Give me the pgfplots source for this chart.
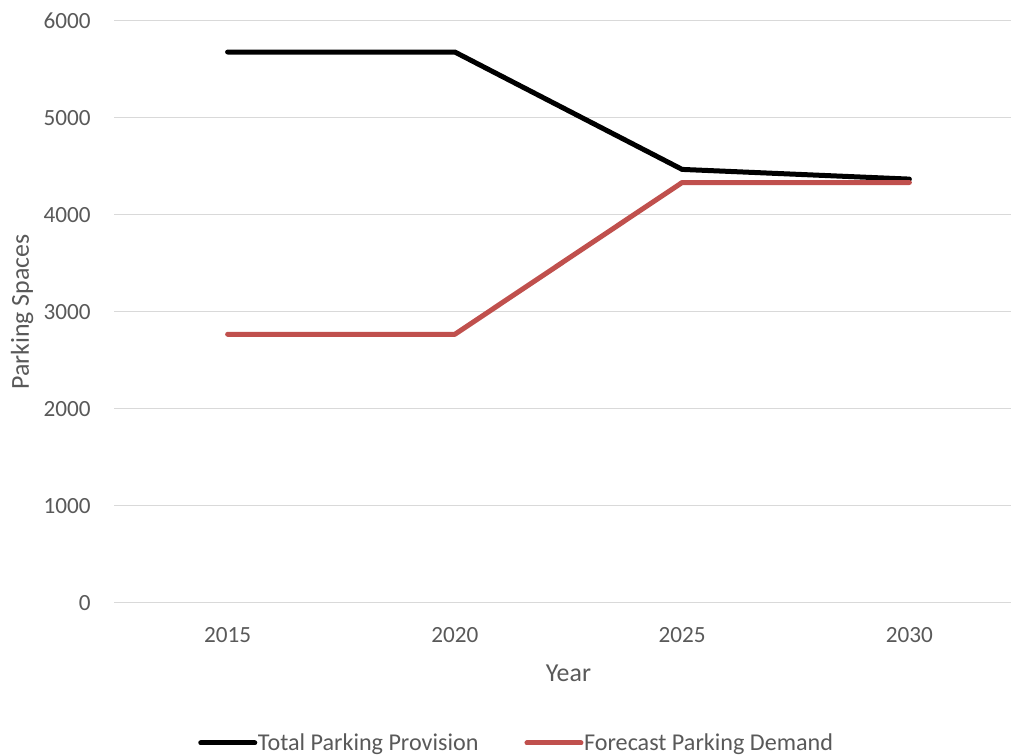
\documentclass[border=0pt]{standalone}
\usepackage{fontspec}
\setmainfont{Carlito}
\usepackage{pgfplots}
\pgfplotsset{compat=1.18}

\definecolor{gridgray}{HTML}{D9D9D9}
\definecolor{labelgray}{HTML}{595959}
\definecolor{demandred}{HTML}{C0504D}

\begin{document}
\begin{tikzpicture}
\useasboundingbox (0pt,0pt) rectangle (758.25pt,567pt);
\begin{axis}[
  scale only axis,
  width=681.75pt, height=436.5pt,
  at={(85.5pt,114.75pt)}, anchor=south west,
  xmin=-0.5, xmax=3.5,
  ymin=0, ymax=6000,
  xtick={0,1,2,3},
  xticklabels={2015,2020,2025,2030},
  ytick={0,1000,2000,3000,4000,5000,6000},
  ymajorgrids,
  grid style={gridgray, line width=0.75pt},
  axis line style={draw=none},
  major tick length=0pt,
  /pgf/number format/assume math mode=true,
  /pgf/number format/1000 sep={},
  tick label style={font=\fontsize{17.4}{20}\selectfont, text=labelgray},
  yticklabel style={inner sep=0pt, anchor=east, xshift=-17.25pt},
  xticklabel style={inner sep=0pt, anchor=north, yshift=-18pt},
  xlabel={Year},
  ylabel={Parking Spaces},
  label style={font=\fontsize{19.4}{22}\selectfont, text=labelgray, inner sep=0pt},
  xlabel style={at={(axis description cs:0.5,0)}, anchor=center, yshift=-52.5pt},
  ylabel style={at={(axis description cs:0,0.5)}, anchor=center, yshift=69pt},
  legend columns=-1,
  legend style={
    at={(axis description cs:0,0)}, anchor=west,
    xshift=63pt, yshift=-105pt,
    draw=none, fill=none, inner sep=0pt,
    font=\fontsize{18.1}{20}\selectfont, text=labelgray,
    nodes={inner sep=0pt},
    /tikz/every odd column/.append style={column sep=0.5pt},
    /tikz/every even column/.append style={column sep=34.5pt},
  },
  legend image code/.code={\draw[#1] (0pt,0pt) -- (40.5pt,0pt);},
  every axis plot/.append style={line width=3.75pt, line cap=round, line join=round},
]
% total parking provision
\addplot[black] coordinates {(0,5680) (1,5680) (2,4470) (3,4370)};
\addlegendentry{Total Parking Provision}
% forecast parking demand
\addplot[demandred] coordinates {(0,2770) (1,2770) (2,4335) (3,4335)};
\addlegendentry{Forecast Parking Demand}
\end{axis}
\end{tikzpicture}
\end{document}
